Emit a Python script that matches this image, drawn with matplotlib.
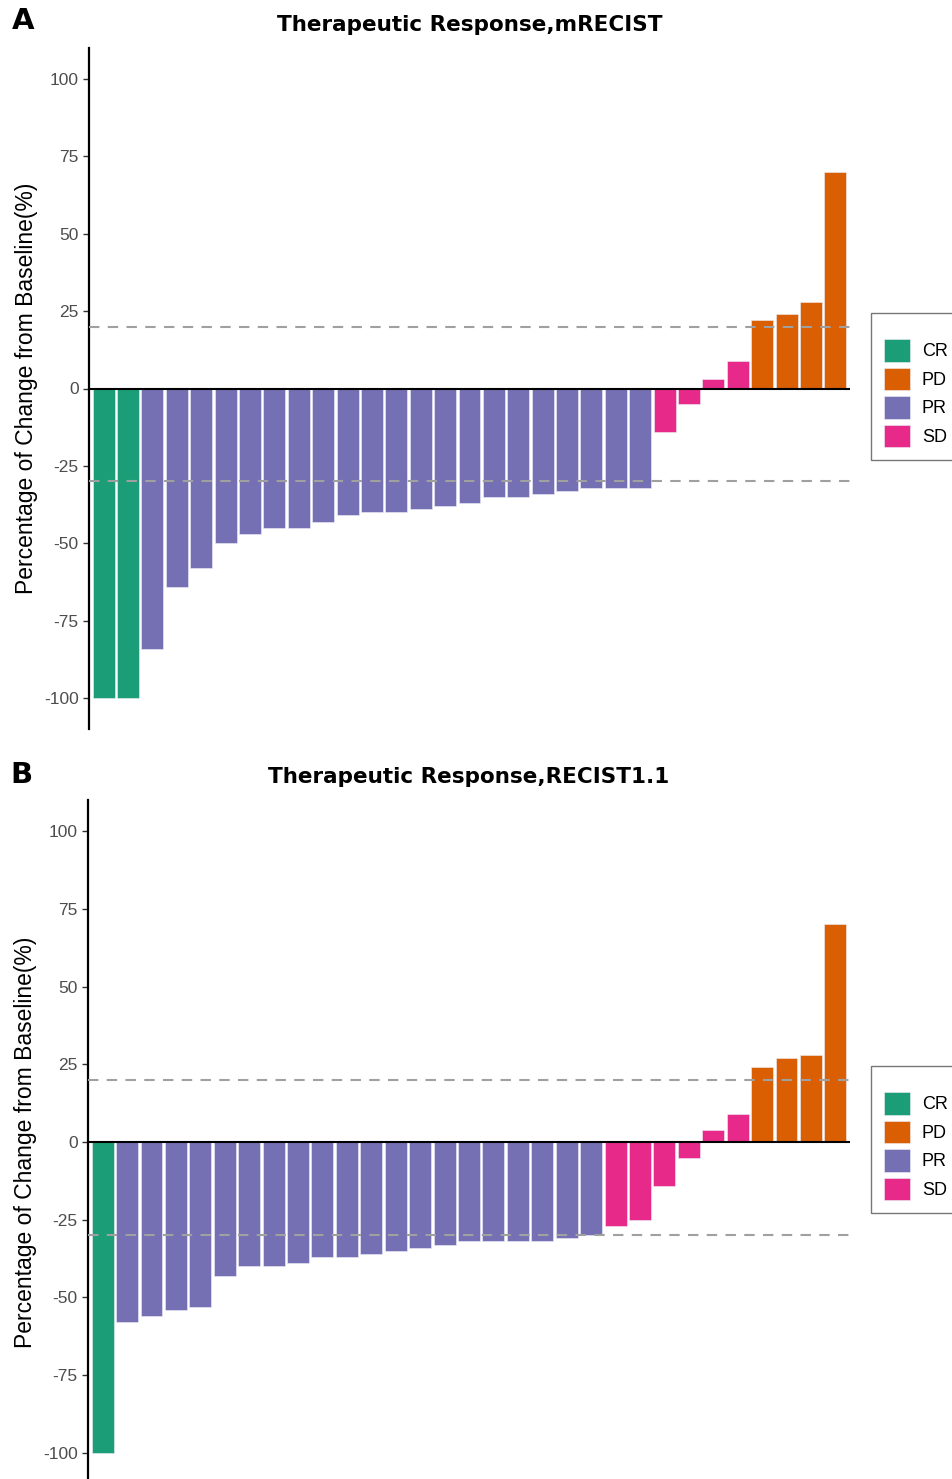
import matplotlib
matplotlib.use("Agg")
import matplotlib.pyplot as plt
from matplotlib.patches import Patch

# data (percent change from baseline)
groups = ["CR", "PD", "PR", "SD"]
colors = {"CR": "#1B9E77", "PD": "#D95F02", "PR": "#7570B3", "SD": "#E7298A"}

a_values = [-100, -100,
            -84, -64, -58, -50, -47, -45, -45, -43, -41, -40, -40, -39, -38, -37,
            -35, -35, -34, -33, -32, -32, -32,
            -14, -5, 3, 9,
            22, 24, 28, 70]
a_groups = ["CR"] * 2 + ["PR"] * 21 + ["SD"] * 4 + ["PD"] * 4

b_values = [-100,
            -58, -56, -54, -53, -43, -40, -40, -39, -37, -37, -36, -35, -34, -33,
            -32, -32, -32, -32, -31, -30,
            -27, -25, -14, -5, 4, 9,
            24, 27, 28, 70]
b_groups = ["CR"] * 1 + ["PR"] * 20 + ["SD"] * 6 + ["PD"] * 4

yticks = [-100, -75, -50, -25, 0, 25, 50, 75, 100]

W, H = 953, 1479
fig = plt.figure(figsize=(W / 100, H / 100), dpi=100)
plt.rcParams["font.family"] = ["Liberation Sans", "DejaVu Sans"]
plt.rcParams["axes.unicode_minus"] = False


def px_axes(left, top, right, bottom):
    return fig.add_axes([left / W, 1 - bottom / H, (right - left) / W, (bottom - top) / H])


def waterfall(ax, values, grp, title, letter, lx, ly, leg_top):
    x = list(range(1, len(values) + 1))
    ax.bar(x, values, width=0.9, color=[colors[g] for g in grp],
           edgecolor="#f0eef8", linewidth=0.4, zorder=2)
    ax.axhline(0, color="black", lw=1.5, zorder=3)
    ax.axhline(20, color="#a0a0a0", lw=1.5, ls=(0, (5, 4)), zorder=4)
    ax.axhline(-30, color="#a0a0a0", lw=1.5, ls=(0, (5, 4)), zorder=4)
    ax.set_xlim(0.4, len(values) + 0.6)
    ax.set_ylim(-110, 110)
    ax.set_yticks(yticks)
    ax.set_xticks([])
    for s in ["top", "right", "bottom"]:
        ax.spines[s].set_visible(False)
    ax.spines["left"].set_linewidth(1.6)
    ax.tick_params(axis="y", labelsize=12.5, labelcolor="#4d4d4d", color="#333333",
                   length=4, width=1)
    ax.set_ylabel("Percentage of Change from Baseline(%)", fontsize=16.5, labelpad=4)
    ax.set_title(title, fontsize=15.5, fontweight="bold", family="DejaVu Sans", pad=12)
    fig.text(lx / W, 1 - ly / H, letter, fontsize=21, fontweight="bold",
             family="DejaVu Sans", va="center", ha="left")
    handles = [Patch(facecolor=colors[g], edgecolor="#f0eef8", lw=0.4) for g in groups]
    leg = fig.legend(handles, groups, loc="upper left",
                     bbox_to_anchor=(871 / W, 1 - leg_top / H),
                     fontsize=13, frameon=True, fancybox=False,
                     title=" ", title_fontproperties={"size": 6},
                     handlelength=1.44, handleheight=1.55, labelspacing=0.33,
                     handletextpad=0.65, borderpad=0.72, borderaxespad=0)
    leg.get_frame().set_edgecolor("#555555")
    leg.get_frame().set_linewidth(1.0)


ax_a = px_axes(89, 48, 850, 729)
waterfall(ax_a, a_values, a_groups, "Therapeutic Response,mRECIST", "A", 12, 21, 313)

ax_b = px_axes(88, 800, 850, 1484)
waterfall(ax_b, b_values, b_groups, "Therapeutic Response,RECIST1.1", "B", 10, 775, 1066)

fig.savefig("out.png", dpi=100)
